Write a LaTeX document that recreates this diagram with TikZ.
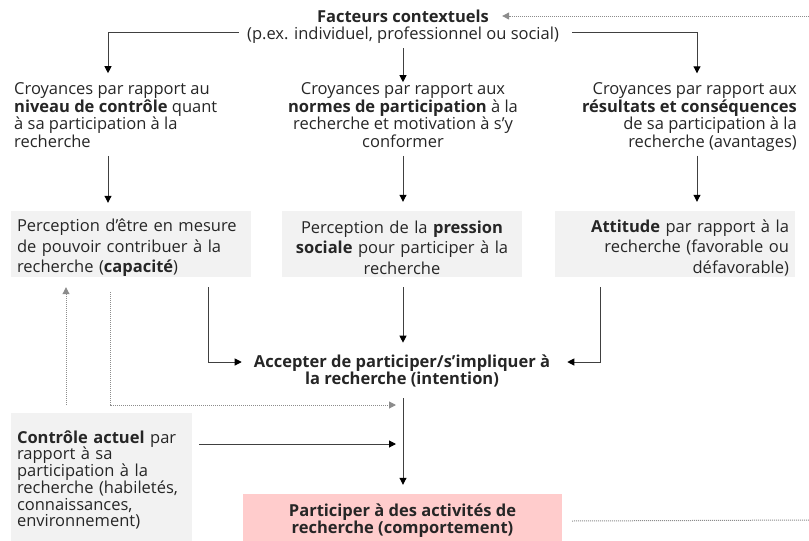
\documentclass[tikz,border=0pt]{standalone}
\usepackage{fontspec}
\setmainfont{Open Sans}
\usetikzlibrary{arrows.meta,positioning,calc}
\definecolor{boxgray}{HTML}{F2F2F2}
\definecolor{boxpink}{HTML}{FFCCCC}
\definecolor{linegray}{HTML}{404040}
\definecolor{dotgray}{HTML}{8C8C8C}
\definecolor{txt}{HTML}{262626}
\tikzset{
 txtblock/.style={inner sep=0pt, text=txt, font=\fontsize{16.5}{17.7}\selectfont},
 greybox/.style={fill=boxgray, inner xsep=6pt, inner ysep=0pt, minimum width=240pt, minimum height=66pt, text width=228pt, text=txt, font=\fontsize{16.5}{20.6}\selectfont},
 arr/.style={draw=linegray, line width=1pt, -{Triangle[length=7pt,width=7pt,color=black]}},
 feedback/.style={draw=dotgray, line width=1pt, dash pattern=on 1pt off 1pt},
 feedarr/.style={feedback, -{Triangle[length=7pt,width=7pt,color=dotgray]}},
}
\newcommand{\haut}{\rule{0pt}{20pt}}
\begin{document}
\begin{tikzpicture}[x=1pt,y=-1pt]
 \useasboundingbox (0,0) rectangle (809,541);
 \node[txtblock, font=\fontsize{16.5}{17.7}\selectfont\bfseries] (fc) at (403,16) {Facteurs contextuels};
 \node[txtblock] (fcx) at (403,35) {(p.ex. individuel, professionnel ou social)};

 \node[txtblock, anchor=west, align=left] (crL) at (14,115) {Croyances par rapport au\\ \textbf{niveau de contrôle} quant\\ à sa participation à la\\ recherche};
 \node[txtblock, align=center] (crM) at (403,115) {Croyances par rapport aux\\ \textbf{normes de participation} à la\\ recherche et motivation à s’y\\ conformer};
 \node[txtblock, anchor=east, align=right] (crR) at (797,117) {Croyances par rapport aux\\ \textbf{résultats et conséquences}\\ de sa participation à la\\ recherche (avantages)};

 \node[greybox, align=left] (capa) at (131,244) {\haut Perception d’être en mesure\\ de pouvoir contribuer à la\\ recherche (\textbf{capacité})};
 \node[greybox, align=center] (pres) at (402,244) {\haut Perception de la \textbf{pression}\\ \textbf{sociale} pour participer à la\\ recherche};
 \node[greybox, align=right] (att) at (675,244) {\haut\textbf{Attitude} par rapport à la\\ recherche (favorable ou\\ défavorable)};

 \node[txtblock, font=\fontsize{16.5}{17}\selectfont\bfseries, align=center] (inten) at (402,371) {Accepter de participer/s’impliquer à\\ la recherche (intention)};

 \node[greybox, minimum width=181pt, minimum height=134pt, text width=169pt, align=left, font=\fontsize{16.5}{16.7}\selectfont] (ctrl) at (101.5,480) {\textbf{Contrôle actuel} par\\ rapport à sa\\ participation à la\\ recherche (habiletés,\\ connaissances,\\ environnement)};
 \node[fill=boxpink, minimum width=319pt, minimum height=54pt, inner sep=0pt, text=txt, font=\fontsize{16.5}{17}\selectfont\bfseries, align=center] (comp) at (402.5,521) {Participer à des activités de\\ recherche (comportement)};

 \coordinate (colL) at (108,0);
 \coordinate (colM) at (403,0);
 \coordinate (colR) at (697,0);
 \coordinate (entree) at (809,16);
 \coordinate (sortie) at (809,520);
 \coordinate (cible1) at (396,405);
 \coordinate (cible2) at (396,444);

 \draw[feedarr] (entree) -- ([xshift=13pt]fc.east);
 \draw[arr] ([xshift=-8pt,yshift=3pt]fcx.west) -| ([yshift=9pt]crL.north -| colL);
 \draw[arr] ([yshift=-5pt]fcx.south -| colM) -- (crM.north -| colM);
 \draw[arr] ([xshift=13pt,yshift=3pt]fcx.east) -| ([yshift=9pt]crR.north -| colR);

 \draw[arr] ([yshift=-8pt]crL.south -| colL) -- ([yshift=8pt]capa.north -| colL);
 \draw[arr] ([yshift=-8pt]crM.south -| colM) -- ([yshift=9pt]pres.north -| colM);
 \draw[arr] ([yshift=-4pt]crR.south -| colR) -- ([yshift=9pt]att.north -| colR);

 \draw[arr] ([xshift=77pt,yshift=-10pt]capa.south) |- ([xshift=-12pt,yshift=9pt]inten.west);
 \draw[arr] ([yshift=-10pt]pres.south -| colM) -- ([yshift=12pt]inten.north -| colM);
 \draw[arr] ([xshift=-75pt,yshift=-10pt]att.south) |- ([xshift=17pt,yshift=9pt]inten.east);

 \draw[feedarr] ([xshift=-35.5pt,yshift=8pt]ctrl.north) -- ([xshift=-65pt,yshift=-10pt]capa.south);
 \draw[feedarr] ([xshift=-21pt,yshift=-15pt]capa.south) |- (cible1);
 \draw[arr] ([xshift=7pt]ctrl.east |- cible2) -- (cible2);
 \draw[arr] ([yshift=-11pt]inten.south -| colM) -- ([yshift=9pt]comp.north -| colM);
 \draw[feedback] ([xshift=10pt]comp.east) -- (sortie);
\end{tikzpicture}
\end{document}
